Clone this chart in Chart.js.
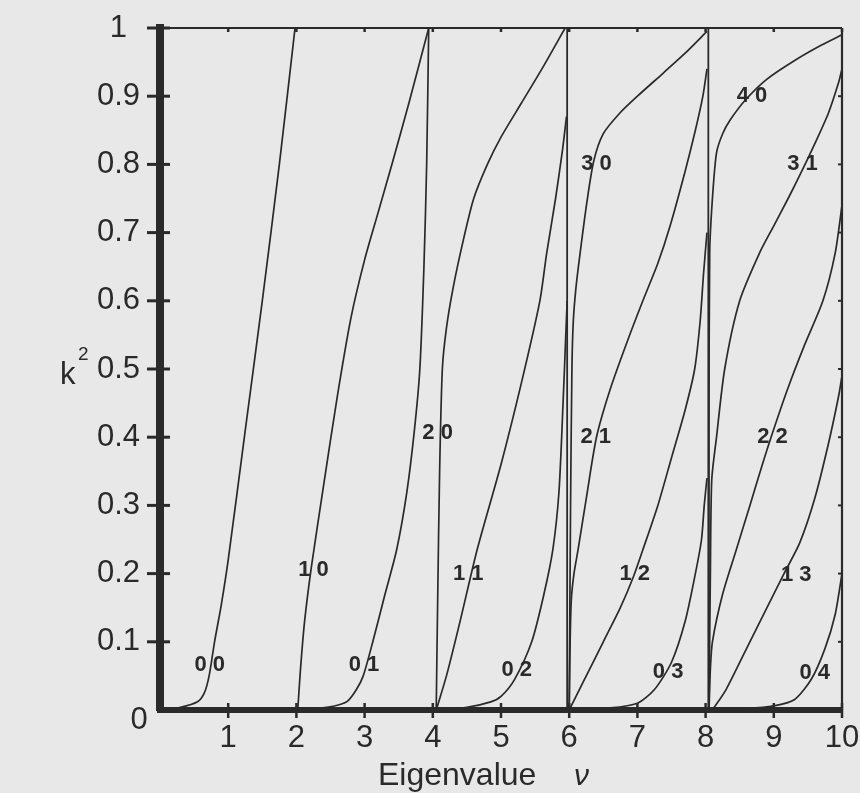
<!DOCTYPE html>
<html><head><meta charset="utf-8">
<script src="https://cdn.jsdelivr.net/npm/chart.js@4.4.1/dist/chart.umd.min.js"></script>
<style>html,body{margin:0;padding:0;background:#e8e8e8;overflow:hidden}</style>
</head><body>
<canvas id="c" width="860" height="793"></canvas>
<script>
// ---- data ----
const curveNames = ['0 0','1 0','0 1','2 0','1 1','0 2','3 0','2 1','1 2','0 3','4 0','3 1','2 2','1 3','0 4'];

const nu00 = [0, 0.3, 0.55, 0.65, 0.72, 0.8, 0.9, 1.0, 1.25, 1.5, 1.75, 1.98];
const k200 = [0, 0.004, 0.012, 0.025, 0.05, 0.1, 0.155, 0.22, 0.41, 0.6, 0.8, 1.0];

const nu10 = [2.02, 2.06, 2.12, 2.22, 2.4, 2.6, 2.8, 3.0, 3.2, 3.4, 3.65, 3.94];
const k210 = [0, 0.06, 0.13, 0.21, 0.33, 0.46, 0.575, 0.66, 0.73, 0.8, 0.89, 1.0];

const nu01 = [2.02, 2.3, 2.6, 2.75, 2.88, 2.98, 3.12, 3.3, 3.47, 3.62, 3.73, 3.81, 3.87, 3.91, 3.94];
const k201 = [0, 0.002, 0.007, 0.013, 0.03, 0.05, 0.1, 0.17, 0.235, 0.32, 0.41, 0.5, 0.65, 0.8, 1.0];

const nu20 = [4.05, 4.07, 4.1, 4.14, 4.2, 4.3, 4.45, 4.6, 4.8, 5.0, 5.3, 5.6, 5.94];
const k220 = [0, 0.15, 0.35, 0.5, 0.56, 0.62, 0.69, 0.75, 0.8, 0.84, 0.89, 0.94, 1.0];

const nu11 = [4.05, 4.2, 4.4, 4.65, 5.0, 5.3, 5.57, 5.67, 5.8, 5.9, 5.96];
const k211 = [0, 0.05, 0.13, 0.235, 0.36, 0.48, 0.6, 0.67, 0.75, 0.82, 0.87];

const nu02 = [4.05, 4.5, 4.85, 5.0, 5.2, 5.45, 5.63, 5.76, 5.85, 5.91, 5.95, 5.97];
const k202 = [0, 0.004, 0.012, 0.02, 0.045, 0.1, 0.17, 0.235, 0.32, 0.45, 0.55, 0.6];

const nu30 = [6.0, 6.02, 6.04, 6.06, 6.1, 6.16, 6.26, 6.36, 6.5, 6.74, 7.0, 7.38, 7.7, 8.02];
const k230 = [0, 0.3, 0.5, 0.57, 0.62, 0.67, 0.745, 0.805, 0.845, 0.875, 0.9, 0.934, 0.963, 0.995];

const nu21 = [6.0, 6.01, 6.03, 6.07, 6.13, 6.25, 6.4, 6.6, 6.85, 7.08, 7.3, 7.48, 7.7, 7.85, 7.96, 8.02];
const k221 = [0, 0.08, 0.16, 0.2, 0.235, 0.31, 0.4, 0.47, 0.54, 0.6, 0.655, 0.71, 0.79, 0.85, 0.9, 0.94];

const nu12 = [6.0, 6.2, 6.5, 6.75, 6.94, 7.08, 7.3, 7.5, 7.7, 7.84, 7.92, 7.97, 8.02];
const k212 = [0, 0.04, 0.1, 0.15, 0.195, 0.235, 0.3, 0.37, 0.44, 0.5, 0.57, 0.64, 0.7];

const nu03 = [6.0, 6.6, 7.0, 7.25, 7.5, 7.7, 7.85, 7.94, 7.98, 8.02];
const k203 = [0, 0.003, 0.01, 0.03, 0.07, 0.13, 0.2, 0.25, 0.3, 0.34];

const nu40 = [8.05, 8.05, 8.06, 8.1, 8.16, 8.25, 8.36, 8.58, 8.9, 9.3, 9.7, 10.0];
const k240 = [0, 0.4, 0.67, 0.75, 0.817, 0.845, 0.865, 0.894, 0.925, 0.952, 0.975, 0.99];

const nu31 = [8.05, 8.07, 8.09, 8.16, 8.28, 8.5, 8.8, 9.0, 9.21, 9.41, 9.6, 9.8, 9.95, 10.0];
const k231 = [0, 0.2, 0.337, 0.4, 0.5, 0.6, 0.672, 0.71, 0.75, 0.79, 0.83, 0.875, 0.92, 0.94];

const nu22 = [8.05, 8.07, 8.1, 8.25, 8.45, 8.65, 8.82, 8.96, 9.2, 9.45, 9.72, 9.9, 10.0];
const k222 = [0, 0.06, 0.1, 0.17, 0.235, 0.3, 0.356, 0.4, 0.47, 0.535, 0.6, 0.67, 0.74];

const nu13 = [8.1, 8.3, 8.6, 8.9, 9.15, 9.38, 9.6, 9.8, 9.95, 10.0];
const k213 = [0, 0.03, 0.09, 0.15, 0.2, 0.245, 0.31, 0.39, 0.46, 0.49];

const nu04 = [8.05, 8.6, 9.0, 9.3, 9.55, 9.75, 9.9, 10.0];
const k204 = [0, 0.002, 0.006, 0.015, 0.045, 0.09, 0.14, 0.2];

const verticalNu = [5.97, 8.04];
const verticalK2 = [0, 1];

const labelNu = [0.73, 2.25, 2.99, 4.07, 4.52, 5.23, 6.4, 6.39, 6.96, 7.45, 8.68, 9.42, 8.98, 9.33, 9.6];
const labelK2 = [0.066, 0.205, 0.066, 0.406, 0.2, 0.059, 0.801, 0.401, 0.2, 0.056, 0.9, 0.8, 0.4, 0.198, 0.054];

const xTicks = [0, 1, 2, 3, 4, 5, 6, 7, 8, 9, 10];
const xTickLabels = ['', '1', '2', '3', '4', '5', '6', '7', '8', '9', '10'];
const yTicks = [0, 0.1, 0.2, 0.3, 0.4, 0.5, 0.6, 0.7, 0.8, 0.9, 1];
const yTickLabels = ['0', '0.1', '0.2', '0.3', '0.4', '0.5', '0.6', '0.7', '0.8', '0.9', '1'];

const xTitle = 'Eigenvalue';
const xTitleSymbol = 'ν';
const yTitle = 'k';
const yTitleSup = '2';

// ---- build datasets ----
const curveNu = [nu00, nu10, nu01, nu20, nu11, nu02, nu30, nu21, nu12, nu03, nu40, nu31, nu22, nu13, nu04];
const curveK2 = [k200, k210, k201, k220, k211, k202, k230, k221, k212, k203, k240, k231, k222, k213, k204];

const INK = '#2a2a2a';
const FONT = "'Liberation Sans', Arial, Helvetica, sans-serif";

const datasets = curveNu.map((xs, i) => ({
  label: curveNames[i],
  data: xs.map((x, j) => ({x: x, y: curveK2[i][j]})),
  showLine: true, borderColor: INK, borderWidth: 1.7, pointRadius: 0, tension: 0.25, fill: false
}));
verticalNu.forEach(v => {
  datasets.push({
    label: 'v' + v,
    data: verticalK2.map(k => ({x: v, y: k})),
    showLine: true, borderColor: INK, borderWidth: 1.8, pointRadius: 0, tension: 0, fill: false
  });
});

const decor = {
  id: 'decor',
  beforeDraw(chart) {
    const ctx = chart.ctx;
    ctx.save();
    ctx.fillStyle = '#e8e8e8';
    ctx.fillRect(0, 0, chart.width, chart.height);
    ctx.restore();
  },
  afterDraw(chart) {
    const {ctx, chartArea: a, scales: {x, y}} = chart;
    ctx.save();
    ctx.strokeStyle = INK;
    ctx.lineCap = 'butt';
    // top and right frame
    ctx.lineWidth = 2.2;
    ctx.beginPath();
    ctx.moveTo(a.left, a.top); ctx.lineTo(a.right, a.top);
    ctx.moveTo(a.right, a.top); ctx.lineTo(a.right, a.bottom);
    ctx.stroke();
    // x tick marks
    ctx.lineWidth = 2.5;
    xTicks.forEach(v => {
      if (v === 0) return;
      const px = x.getPixelForValue(v);
      ctx.beginPath(); ctx.moveTo(px, a.bottom - 7); ctx.lineTo(px, a.bottom + 8); ctx.stroke();
      ctx.beginPath(); ctx.moveTo(px, a.top); ctx.lineTo(px, a.top + 4); ctx.stroke();
    });
    // y tick marks
    yTicks.forEach(v => {
      if (v === 0) return;
      const py = y.getPixelForValue(v);
      ctx.lineWidth = 3;
      ctx.beginPath(); ctx.moveTo(a.left - 13, py); ctx.lineTo(a.left + 10, py); ctx.stroke();
      ctx.lineWidth = 2;
      ctx.beginPath(); ctx.moveTo(a.right - 4, py); ctx.lineTo(a.right, py); ctx.stroke();
    });
    ctx.fillStyle = INK;
    // the corner "0" label of the y axis (set slightly lower in the reference)
    ctx.font = '31px ' + FONT;
    ctx.textAlign = 'center';
    ctx.textBaseline = 'middle';
    ctx.fillText(yTickLabels[0], a.left - 21, y.getPixelForValue(yTicks[0]) + 10);
    // curve labels
    ctx.font = 'bold 22px ' + FONT;
    curveNames.forEach((t, i) => {
      ctx.fillText(t, x.getPixelForValue(labelNu[i]), y.getPixelForValue(labelK2[i]));
    });
    // axis titles
    ctx.textBaseline = 'alphabetic';
    ctx.textAlign = 'left';
    ctx.font = '32px ' + FONT;
    ctx.fillText(xTitle, 378, 785);
    ctx.font = 'italic 30px ' + FONT;
    ctx.fillText(xTitleSymbol, 574, 785);
    ctx.font = '31px ' + FONT;
    ctx.fillText(yTitle, 60, 384);
    ctx.font = '19px ' + FONT;
    ctx.fillText(yTitleSup, 78, 360);
    ctx.restore();
  }
};

new Chart(document.getElementById('c'), {
  type: 'scatter',
  data: {datasets},
  options: {
    responsive: false,
    animation: false,
    devicePixelRatio: 1,
    layout: {padding: {left: 60, right: 18, top: 28, bottom: 0}},
    plugins: {legend: {display: false}, tooltip: {enabled: false}},
    scales: {
      x: {
        type: 'linear', min: 0, max: 10,
        afterBuildTicks: s => { s.ticks = xTicks.map(v => ({value: v})); },
        afterFit: s => { s.height = 83; s.paddingLeft = 0; s.paddingRight = 0; },
        grid: {display: false, drawTicks: false},
        border: {display: true, width: 6, color: INK},
        ticks: {
          autoSkip: false, maxRotation: 0, padding: 10, color: INK,
          font: {family: FONT, size: 31},
          callback: (v, i) => xTickLabels[i]
        }
      },
      y: {
        type: 'linear', min: 0, max: 1,
        afterBuildTicks: s => { s.ticks = yTicks.map(v => ({value: v})); },
        afterFit: s => { s.width = 100; s.paddingTop = 0; s.paddingBottom = 0; },
        grid: {display: false, drawTicks: false},
        border: {display: true, width: 8, color: INK},
        ticks: {
          autoSkip: false, padding: 20, crossAlign: 'center', color: INK,
          font: {family: FONT, size: 31},
          callback: (v, i) => (i === 0 ? '' : yTickLabels[i])
        }
      }
    }
  },
  plugins: [decor]
});
</script>
</body></html>
